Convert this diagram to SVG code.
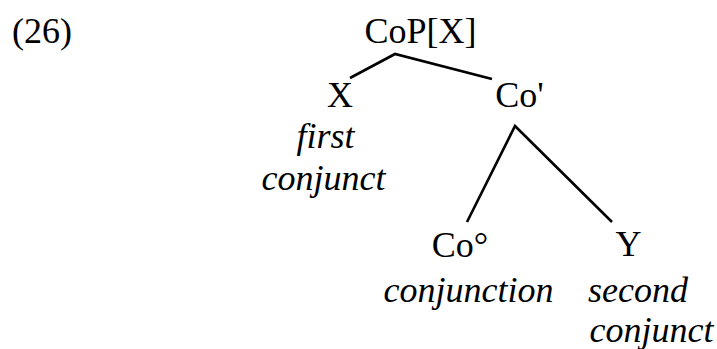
<svg xmlns="http://www.w3.org/2000/svg" width="717" height="349" viewBox="0 0 717 349">
<style>
text{font-family:"Liberation Serif","Times New Roman",serif;font-size:36px;fill:#000;text-anchor:middle}
.it{font-style:italic}
.edge{stroke:#000;stroke-width:2.6;fill:none;stroke-linecap:butt}
</style>
<rect width="717" height="349" fill="#fff"/>
<text id="label" x="42" y="43">(26)</text>
<g id="connectors">
<polyline class="edge" points="350,78 395,54 492,79"/>
<polyline class="edge" points="467,222 515,126 612,222"/>
</g>
<g id="CoP"><text x="420.5" y="43">CoP[X]</text></g>
<g id="X"><text x="340" y="107">X</text><text class="it" x="325.5" y="148">first</text><text class="it" x="323.5" y="190">conjunct</text></g>
<g id="CoBar"><text x="519.5" y="107">Co'</text></g>
<g id="Co0"><text x="460" y="257">Co°</text><text class="it" x="468.5" y="302">conjunction</text></g>
<g id="Y"><text x="628.5" y="256">Y</text><text class="it" x="638" y="302">second</text><text class="it" x="651.5" y="342">conjunct</text></g>
</svg>
